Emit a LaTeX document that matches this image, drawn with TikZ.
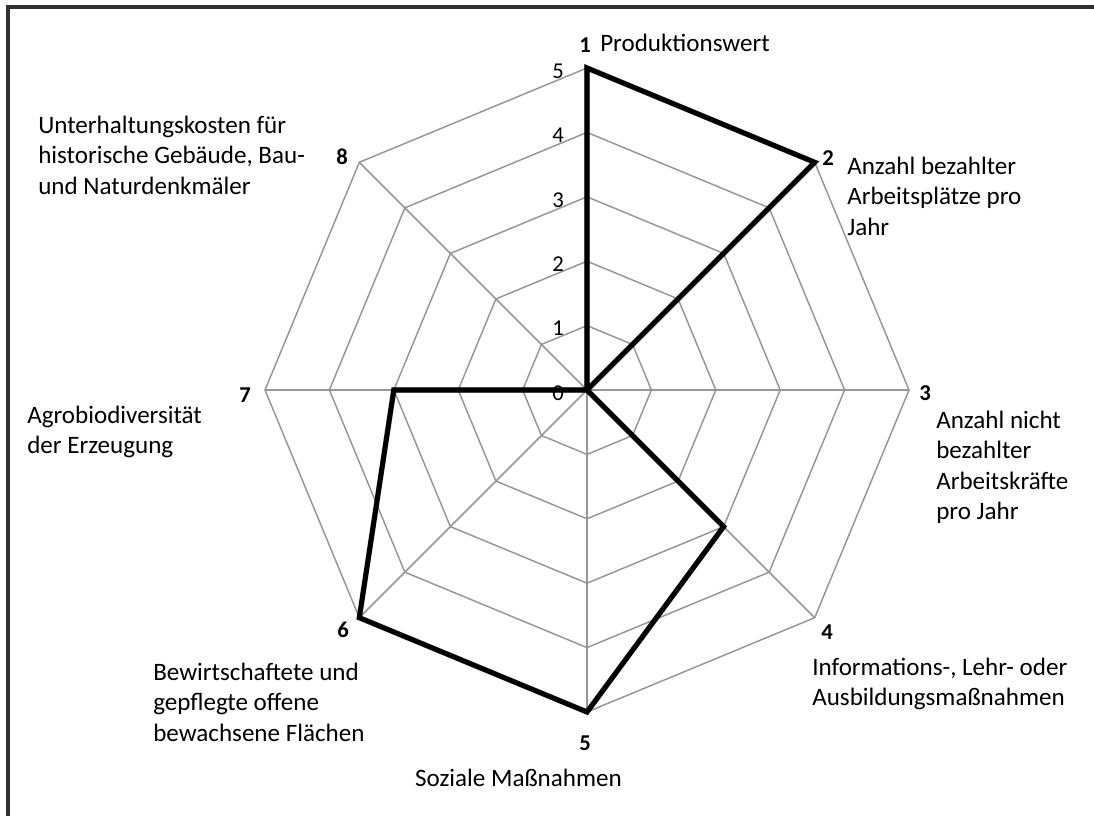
\documentclass[tikz,border=0pt]{standalone}
\usepackage{fontspec}
\setmainfont{Carlito}
\definecolor{gridgray}{RGB}{150,150,150}
\definecolor{framegray}{RGB}{50,50,50}
\begin{document}
\begin{tikzpicture}[x=0.75pt,y=-0.75pt,
  grid/.style={draw=gridgray, line width=1.1pt},
  series/.style={draw=black, line width=3.8pt, line join=miter},
  seriesshadow/.style={draw=black, opacity=0.22, line width=4.2pt},
  axisnum/.style={font=\bfseries\fontsize{17}{19}\selectfont, inner sep=0pt},
  tick/.style={font=\fontsize{17}{19}\selectfont, inner sep=0pt},
  caption/.style={font=\fontsize{18.8}{22.9}\selectfont, inner sep=0pt, align=left, anchor=west},
]
\useasboundingbox (0,0) rectangle (1094,816);
\clip (0,0) rectangle (1094,816);
\fill[white] (0,0) rectangle (1094,816);

% outer frame (left and top edges of the chart area)
\coordinate (fa) at (8,816);
\coordinate (fb) at (8,7);
\coordinate (fc) at (1094,7);
\draw[framegray, line width=2.3pt] (fa) -- (fb) -- (fc);

% centre and grid vertices: axis k, level l (radius 64.4 per unit)
\coordinate (c) at (587,390);
\foreach \k in {1,...,8}{
  \pgfmathsetmacro\ang{-90+45*(\k-1)}
  \foreach \l in {1,...,5}{
    \coordinate (v\k-\l) at ([shift={(\ang:\l*64.4)}]c);
  }
}

% rings
\foreach \l in {1,...,5}
  \draw[grid] (v1-\l) -- (v2-\l) -- (v3-\l) -- (v4-\l) -- (v5-\l) -- (v6-\l) -- (v7-\l) -- (v8-\l) -- cycle;
% spokes
\foreach \k in {1,...,8}
  \draw[grid] (c) -- (v\k-5);

% data series
\begin{scope}[shift={(1.5,2.5)}]
\draw[seriesshadow] (v1-5) -- (v2-5) -- (c) -- (v4-3) -- (v5-5) -- (v6-5) -- (v7-3) -- (c) -- cycle;
\end{scope}
\draw[series] (v1-5) -- (v2-5) -- (c) -- (v4-3) -- (v5-5) -- (v6-5) -- (v7-3) -- (c) -- cycle;

% scale labels
\foreach \l in {0,...,5}
  \node[tick] (t\l) at (558,{390-64.4*\l+3}) {\l};

% axis numbers
\node[axisnum] (n1) at (585,45) {1};
\node[axisnum] (n2) at (828,158) {2};
\node[axisnum] (n3) at (925,393) {3};
\node[axisnum] (n4) at (827,632) {4};
\node[axisnum] (n5) at (585,743) {5};
\node[axisnum] (n6) at (343,630) {6};
\node[axisnum] (n7) at (245,395) {7};
\node[axisnum] (n8) at (342,157) {8};

% axis captions
\node[caption] (l1) at (600,43) {Produktionswert};
\node[caption] (l2) at (847,196) {Anzahl bezahlter\\Arbeitsplätze pro\\Jahr};
\node[caption] (l3) at (936,467.5) {Anzahl nicht\\bezahlter\\Arbeitskräfte\\pro Jahr};
\node[caption] (l4) at (812,684) {Informations-, Lehr- oder\\Ausbildungsmaßnahmen};
\node[caption, anchor=center] (l5) at (518.5,778) {Soziale Maßnahmen};
\node[caption] (l6) at (153,702) {Bewirtschaftete und\\gepflegte offene\\bewachsene Flächen};
\node[caption] (l7) at (27,432) {Agrobiodiversität\\der Erzeugung};
\node[caption] (l8) at (38,155) {Unterhaltungskosten für\\historische Gebäude, Bau-\\und Naturdenkmäler};
\end{tikzpicture}
\end{document}
